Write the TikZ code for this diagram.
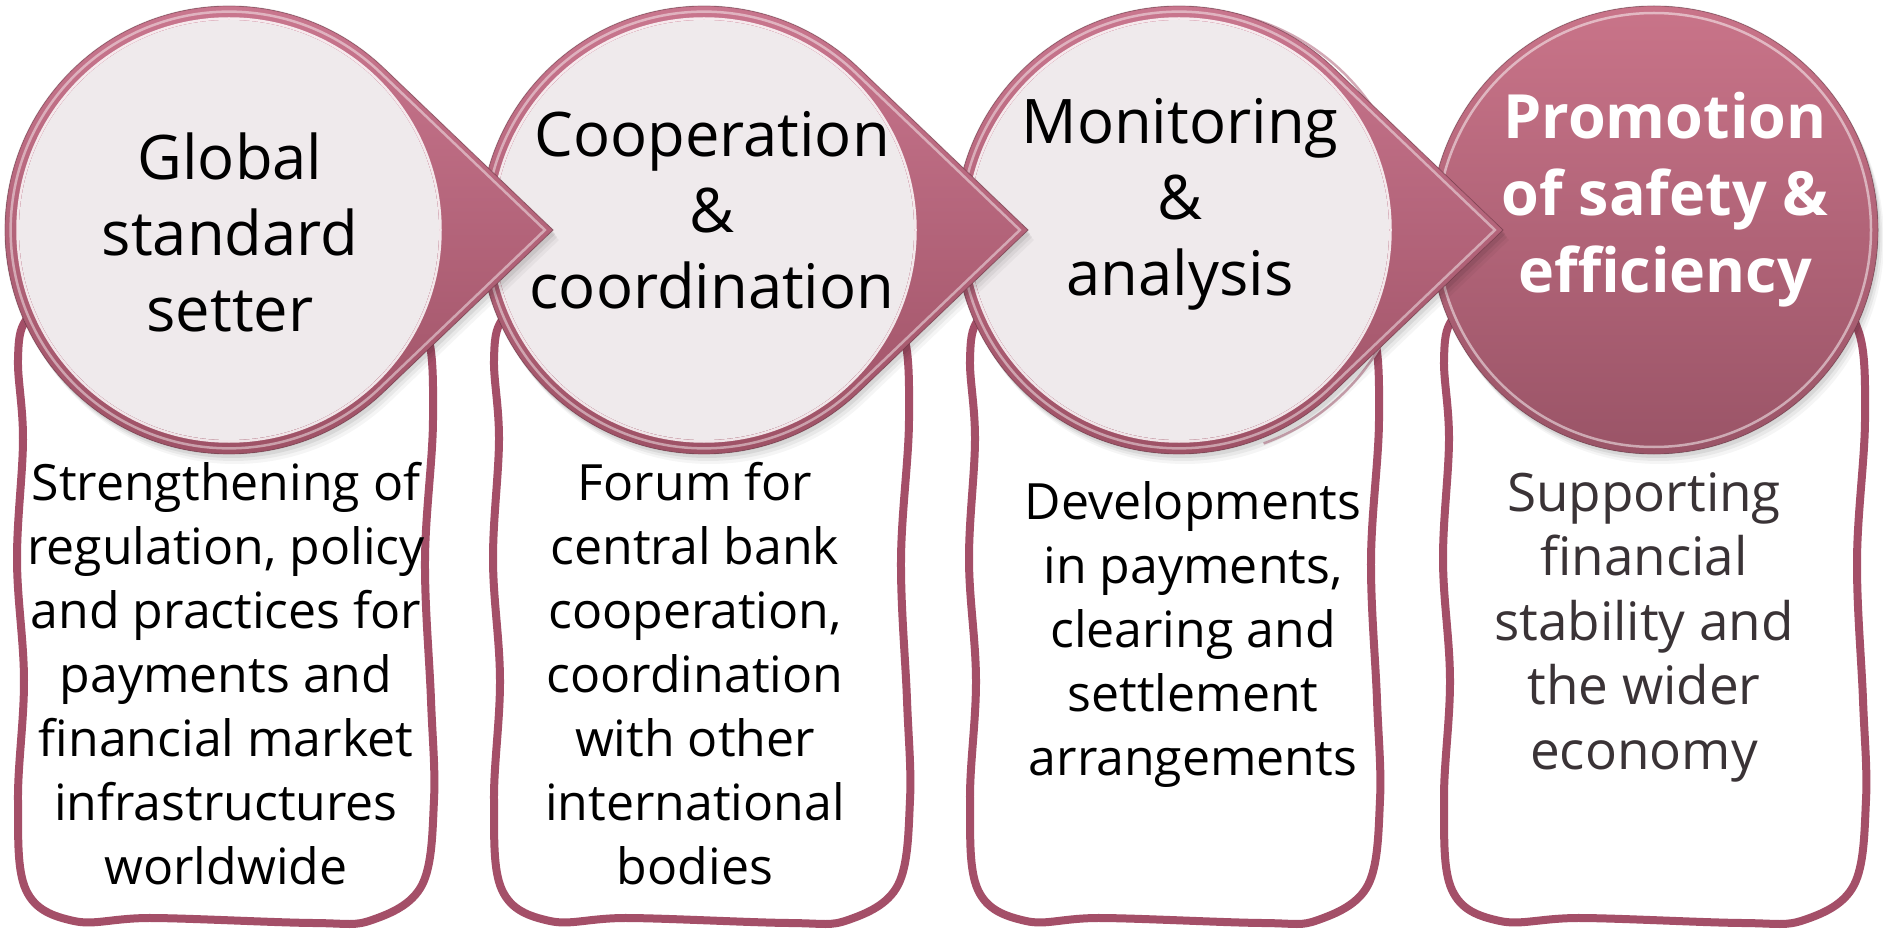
\documentclass[tikz,border=0pt]{standalone}
\usepackage{fontspec}
\setmainfont{Open Sans}
\usetikzlibrary{calc}

\definecolor{ringtop}{HTML}{CB7890}
\definecolor{ringbot}{HTML}{9C5064}
\definecolor{disc}{HTML}{EFEAEC}
\definecolor{frame}{HTML}{A44F68}
\definecolor{goaltop}{HTML}{C97489}
\definecolor{goalbot}{HTML}{9A5467}
\definecolor{greytext}{HTML}{3A3336}
\definecolor{ghost}{HTML}{D3A9B6}

% teardrop outline: circle of radius 224 with tangent edges meeting at a tip 324 to the right
\newcommand\tearshape{(324,0) -- ({224*cos(46.3)},{-224*sin(46.3)}) arc[start angle=-46.3, end angle=-313.7, radius=224] -- cycle}

% wavy frame below each disc
\newcommand\wavybox[2]{%
  \draw[boxline] plot[smooth cycle, tension=0.6] coordinates {
    (#1+45,300) ({(#1+#2)/2},296) (#2-45,300)
    (#2-6,330) (#2+1,420) (#2-7,560) (#2-1,700) (#2+2,800) (#2-10,885)
    (#2-60,920) ({(#1+#2)/2+90},923) ({(#1+#2)/2-70},918) (#1+60,921)
    (#1+12,890) (#1+4,800) (#1+10,680) (#1+3,560) (#1+9,440) (#1+4,360) (#1+12,320)
  };}

% one pointing disc, centred at (#1,230)
\newcommand\callout[1]{%
  \begin{scope}[shift={(#1,230)}]
    \foreach \o/\a in {10/0.04,7/0.05,4/0.07}
      \fill[black, opacity=\a, shift={(0.6*\o,\o)}] \tearshape;
    \fill[top color=ringtop, bottom color=ringbot] \tearshape;
    \draw[white, opacity=0.45, line width=2.5, scale=0.975] \tearshape;
    \draw[ringbot!80!black, opacity=0.35, line width=1.2] \tearshape;
    \fill[disc] (0,0) circle[radius=210];
    \draw[white, line width=2.5, opacity=0.85] (0,0) circle[radius=211.5];
  \end{scope}}

\tikzset{
  boxline/.style={draw=frame, line width=8, fill=white},
  circtext/.style={align=center, font=\fontsize{61.5}{76}\selectfont, text=black, inner sep=0},
  goaltext/.style={align=center, font=\fontsize{61}{77}\selectfont\bfseries, text=white, inner sep=0},
  bodytext/.style={align=center, font=\fontsize{50}{64}\selectfont, text=black, inner sep=0},
  softtext/.style={align=center, font=\fontsize{53}{64.5}\selectfont, text=greytext, inner sep=0},
}

\begin{document}
\begin{tikzpicture}[x=1pt, y=-1pt]
  \useasboundingbox (0,0) rectangle (1883,933);
  \fill[white] (0,0) rectangle (1883,933);

  % frames
  \wavybox{14}{432}
  \wavybox{490}{908}
  \wavybox{966}{1378}
  \wavybox{1440}{1864}

  % final goal disc
  \begin{scope}[shift={(1654,230)}]
    \foreach \o/\a in {10/0.04,7/0.05,4/0.07}
      \fill[black, opacity=\a, shift={(0.6*\o,\o)}] (0,0) circle[radius=224];
    \fill[top color=goaltop, bottom color=goalbot] (0,0) circle[radius=224];
    \draw[white, opacity=0.5, line width=2.5] (0,0) circle[radius=217];
    \draw[goalbot!80!black, opacity=0.35, line width=1.2] (0,0) circle[radius=224];
  \end{scope}

  % pointing discs, right to left so each pointer lies over the next disc
  \begin{scope}[shift={(1179,230)}]
    \draw[ghost, line width=2.5] (8,3) ++(-95:224) arc[start angle=-95, end angle=70, radius=224];
  \end{scope}
  \callout{1179}
  \callout{704}
  \callout{229}

  % disc titles
  \node[circtext] (title1) at (230,232) {Global\\standard\\setter};
  \node[circtext] (title2) at (712,210) {Cooperation\\\&\\coordination};
  \node[circtext] (title3) at (1180,204) {Monitoring\\\&\\analysis};
  \node[goaltext] (title4) at (1665,200) {Promotion\\of safety \&\\efficiency};

  % frame texts
  \node[bodytext] (body1) at (226,674) {Strengthening of\\regulation, policy\\and practices for\\payments and\\financial market\\infrastructures\\worldwide};
  \node[bodytext] (body2) at (695,674) {Forum for\\central bank\\cooperation,\\coordination\\with other\\international\\bodies};
  \node[bodytext] (body3) at (1193,635) {Developments\\in payments,\\clearing and\\settlement\\arrangements};
  \node[softtext] (body4) at (1644,627) {Supporting\\financial\\stability and\\the wider\\economy};
\end{tikzpicture}
\end{document}
